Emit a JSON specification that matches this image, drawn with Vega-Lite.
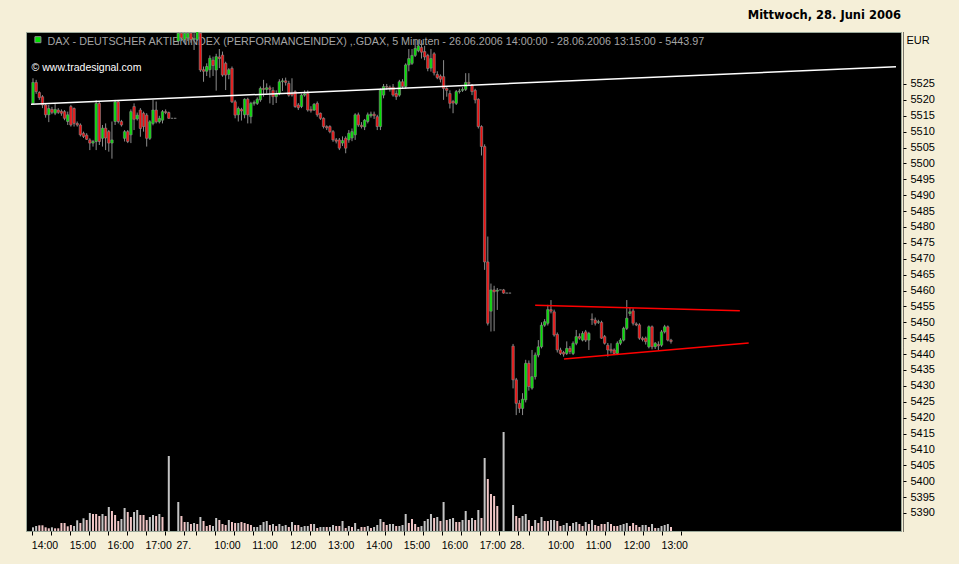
{
"$schema": "https://vega.github.io/schema/vega-lite/v6.json",
"width": 875, "height": 499,
"autosize": {"type": "none"},
"padding": {"left": 26, "top": 32, "right": 58, "bottom": 33},
"background": "#F5EFD8",
"config": {"view": {"fill": "#000000", "stroke": "#9AA89A", "strokeWidth": 1}, "font": "Liberation Sans",
 "axisY": {"titleAngle": 0, "titleAlign": "left", "titleBaseline": "alphabetic", "titleX": 3, "titleY": 11, "titleFontWeight": "normal", "titleFontSize": 11, "titleColor": "#000000", "titleFont": "Liberation Sans",
   "labelFontSize": 11, "labelColor": "#000000", "labelFont": "Liberation Sans", "labelPadding": 4, "tickSize": 3, "tickColor": "#000000",
   "domain": true, "domainDash": [1, 1], "domainColor": "#000000", "offset": 2, "grid": false, "labelOverlap": false, "labelFlush": false}},
"title": {"text": "Mittwoch, 28. Juni 2006", "anchor": "end", "frame": "group", "fontSize": 11.5, "fontWeight": "bold", "font": "DejaVu Sans", "color": "#000000", "offset": 11},
"datasets": {
"candles": [
{"n":0,"o":5518.9,"h":5526.8,"l":5518.6,"c":5525.5},
{"n":1,"o":5525.5,"h":5526.3,"l":5521.9,"c":5522.6},
{"n":2,"o":5522.3,"h":5522.7,"l":5520.0,"c":5520.7},
{"n":3,"o":5521.0,"h":5521.5,"l":5517.4,"c":5518.4},
{"n":4,"o":5518.4,"h":5518.7,"l":5514.4,"c":5515.3},
{"n":5,"o":5515.3,"h":5518.4,"l":5513.0,"c":5517.3},
{"n":6,"o":5517.0,"h":5517.8,"l":5515.5,"c":5516.1},
{"n":7,"o":5515.8,"h":5518.9,"l":5515.2,"c":5517.0},
{"n":8,"o":5516.8,"h":5517.4,"l":5515.6,"c":5516.1},
{"n":9,"o":5516.4,"h":5517.0,"l":5515.0,"c":5515.8},
{"n":10,"o":5516.3,"h":5516.8,"l":5513.6,"c":5514.2},
{"n":11,"o":5513.2,"h":5516.3,"l":5512.1,"c":5515.3},
{"n":12,"o":5517.9,"h":5518.4,"l":5511.6,"c":5512.1},
{"n":13,"o":5517.3,"h":5517.6,"l":5511.6,"c":5512.6},
{"n":14,"o":5512.6,"h":5513.2,"l":5511.6,"c":5512.1},
{"n":15,"o":5512.1,"h":5512.6,"l":5508.5,"c":5509.0},
{"n":16,"o":5509.5,"h":5510.0,"l":5508.0,"c":5508.5},
{"n":17,"o":5508.9,"h":5509.5,"l":5507.4,"c":5507.6},
{"n":18,"o":5507.4,"h":5507.9,"l":5504.2,"c":5506.4},
{"n":19,"o":5506.4,"h":5507.4,"l":5505.3,"c":5506.9},
{"n":20,"o":5506.9,"h":5519.9,"l":5504.2,"c":5518.9},
{"n":21,"o":5518.9,"h":5519.4,"l":5505.8,"c":5506.9},
{"n":22,"o":5507.9,"h":5512.1,"l":5505.3,"c":5511.1},
{"n":23,"o":5511.1,"h":5512.6,"l":5504.2,"c":5508.0},
{"n":24,"o":5510.0,"h":5510.5,"l":5503.7,"c":5506.4},
{"n":25,"o":5506.4,"h":5513.2,"l":5501.5,"c":5507.4},
{"n":26,"o":5513.2,"h":5520.0,"l":5512.1,"c":5519.4},
{"n":27,"o":5519.4,"h":5519.9,"l":5512.6,"c":5513.2},
{"n":28,"o":5513.2,"h":5513.7,"l":5511.6,"c":5512.1},
{"n":29,"o":5507.9,"h":5510.5,"l":5506.9,"c":5510.0},
{"n":30,"o":5510.0,"h":5510.5,"l":5506.4,"c":5506.9},
{"n":31,"o":5509.0,"h":5517.0,"l":5506.4,"c":5516.3},
{"n":32,"o":5517.9,"h":5518.9,"l":5510.5,"c":5513.9},
{"n":33,"o":5514.0,"h":5516.0,"l":5513.5,"c":5515.2},
{"n":34,"o":5516.8,"h":5517.4,"l":5508.4,"c":5511.0},
{"n":35,"o":5515.8,"h":5516.3,"l":5510.0,"c":5511.6},
{"n":36,"o":5515.2,"h":5515.8,"l":5505.3,"c":5507.9},
{"n":37,"o":5507.9,"h":5513.6,"l":5507.4,"c":5513.1},
{"n":38,"o":5512.6,"h":5520.0,"l":5512.0,"c":5516.8},
{"n":39,"o":5516.8,"h":5519.5,"l":5512.6,"c":5513.1},
{"n":40,"o":5513.1,"h":5515.0,"l":5512.6,"c":5514.2},
{"n":41,"o":5513.6,"h":5516.8,"l":5512.6,"c":5516.3},
{"n":42,"o":5516.3,"h":5517.0,"l":5515.5,"c":5516.0},
{"n":43,"o":5516.0,"h":5516.3,"l":5514.0,"c":5514.2},
{"n":44,"o":5514.2,"h":5514.2,"l":5514.2,"c":5514.2},
{"n":45,"o":5514.2,"h":5514.2,"l":5514.2,"c":5514.2},
{"n":46,"o":5538.5,"h":5542.0,"l":5537.5,"c":5541.0},
{"n":47,"o":5541.0,"h":5542.0,"l":5538.5,"c":5539.5},
{"n":48,"o":5539.0,"h":5542.0,"l":5538.0,"c":5541.0},
{"n":49,"o":5539.5,"h":5542.0,"l":5538.5,"c":5541.0},
{"n":50,"o":5541.0,"h":5542.0,"l":5538.0,"c":5539.0},
{"n":51,"o":5539.0,"h":5541.0,"l":5535.7,"c":5539.3},
{"n":52,"o":5539.0,"h":5542.0,"l":5538.5,"c":5541.5},
{"n":53,"o":5541.0,"h":5542.0,"l":5528.8,"c":5529.4},
{"n":54,"o":5529.5,"h":5530.5,"l":5525.7,"c":5529.0},
{"n":55,"o":5529.0,"h":5531.5,"l":5527.5,"c":5530.5},
{"n":56,"o":5529.5,"h":5534.0,"l":5527.0,"c":5533.1},
{"n":57,"o":5532.5,"h":5533.6,"l":5527.5,"c":5530.8},
{"n":58,"o":5529.4,"h":5534.5,"l":5522.9,"c":5533.6},
{"n":59,"o":5533.5,"h":5536.0,"l":5530.0,"c":5533.0},
{"n":60,"o":5534.1,"h":5535.2,"l":5527.3,"c":5527.8},
{"n":61,"o":5531.5,"h":5532.0,"l":5523.1,"c":5527.8},
{"n":62,"o":5528.0,"h":5530.0,"l":5526.5,"c":5529.5},
{"n":63,"o":5529.9,"h":5530.5,"l":5519.0,"c":5519.4},
{"n":64,"o":5519.4,"h":5520.0,"l":5514.2,"c":5515.2},
{"n":65,"o":5515.3,"h":5517.9,"l":5513.2,"c":5517.3},
{"n":66,"o":5517.0,"h":5517.5,"l":5513.5,"c":5516.5},
{"n":67,"o":5515.3,"h":5520.5,"l":5514.2,"c":5520.2},
{"n":68,"o":5520.2,"h":5520.7,"l":5512.6,"c":5515.3},
{"n":69,"o":5514.7,"h":5519.4,"l":5512.6,"c":5518.9},
{"n":70,"o":5518.9,"h":5519.8,"l":5518.2,"c":5519.2},
{"n":71,"o":5518.9,"h":5520.8,"l":5518.4,"c":5520.2},
{"n":72,"o":5520.0,"h":5524.2,"l":5519.4,"c":5523.6},
{"n":73,"o":5523.6,"h":5526.3,"l":5521.0,"c":5523.3},
{"n":74,"o":5523.3,"h":5525.2,"l":5522.0,"c":5523.8},
{"n":75,"o":5523.8,"h":5524.5,"l":5518.9,"c":5523.3},
{"n":76,"o":5523.0,"h":5524.0,"l":5518.4,"c":5521.0},
{"n":77,"o":5521.0,"h":5523.0,"l":5519.0,"c":5522.0},
{"n":78,"o":5522.0,"h":5526.5,"l":5521.5,"c":5525.7},
{"n":79,"o":5525.7,"h":5526.8,"l":5522.8,"c":5526.0},
{"n":80,"o":5526.0,"h":5527.0,"l":5524.5,"c":5525.5},
{"n":81,"o":5525.2,"h":5526.0,"l":5521.0,"c":5521.5},
{"n":82,"o":5522.0,"h":5526.8,"l":5521.0,"c":5521.5},
{"n":83,"o":5522.6,"h":5523.0,"l":5517.5,"c":5517.9},
{"n":84,"o":5518.4,"h":5519.0,"l":5516.8,"c":5517.5},
{"n":85,"o":5517.9,"h":5522.0,"l":5517.4,"c":5521.5},
{"n":86,"o":5521.5,"h":5523.0,"l":5521.0,"c":5521.9},
{"n":87,"o":5522.1,"h":5523.0,"l":5516.3,"c":5516.8},
{"n":88,"o":5517.0,"h":5518.0,"l":5516.0,"c":5516.6},
{"n":89,"o":5516.8,"h":5519.0,"l":5516.5,"c":5518.6},
{"n":90,"o":5518.9,"h":5519.5,"l":5514.7,"c":5515.3},
{"n":91,"o":5515.8,"h":5516.0,"l":5513.7,"c":5514.2},
{"n":92,"o":5514.2,"h":5514.5,"l":5511.0,"c":5511.6},
{"n":93,"o":5511.6,"h":5512.0,"l":5510.5,"c":5511.2},
{"n":94,"o":5511.6,"h":5512.0,"l":5509.5,"c":5510.0},
{"n":95,"o":5510.0,"h":5510.5,"l":5506.8,"c":5507.4},
{"n":96,"o":5507.4,"h":5508.0,"l":5506.3,"c":5507.0},
{"n":97,"o":5507.4,"h":5508.0,"l":5504.2,"c":5504.8},
{"n":98,"o":5506.4,"h":5508.5,"l":5505.5,"c":5507.2},
{"n":99,"o":5507.9,"h":5508.5,"l":5503.2,"c":5504.8},
{"n":100,"o":5507.4,"h":5510.5,"l":5506.5,"c":5509.5},
{"n":101,"o":5508.0,"h":5511.0,"l":5507.0,"c":5510.0},
{"n":102,"o":5509.0,"h":5515.8,"l":5507.4,"c":5515.3},
{"n":103,"o":5515.3,"h":5516.0,"l":5511.5,"c":5512.1},
{"n":104,"o":5512.0,"h":5513.0,"l":5511.0,"c":5511.6},
{"n":105,"o":5511.5,"h":5514.0,"l":5510.5,"c":5513.6},
{"n":106,"o":5513.2,"h":5516.0,"l":5512.6,"c":5515.3},
{"n":107,"o":5515.0,"h":5516.3,"l":5514.4,"c":5515.5},
{"n":108,"o":5515.5,"h":5516.3,"l":5514.0,"c":5515.0},
{"n":109,"o":5514.7,"h":5515.3,"l":5510.5,"c":5511.6},
{"n":110,"o":5511.6,"h":5523.6,"l":5510.5,"c":5523.1},
{"n":111,"o":5521.5,"h":5525.0,"l":5520.5,"c":5524.2},
{"n":112,"o":5524.2,"h":5525.0,"l":5523.2,"c":5524.0},
{"n":113,"o":5524.0,"h":5524.5,"l":5522.6,"c":5523.6},
{"n":114,"o":5524.0,"h":5525.0,"l":5521.0,"c":5521.5},
{"n":115,"o":5522.0,"h":5523.0,"l":5520.0,"c":5521.0},
{"n":116,"o":5521.5,"h":5526.3,"l":5521.0,"c":5525.7},
{"n":117,"o":5525.7,"h":5526.5,"l":5523.5,"c":5524.2},
{"n":118,"o":5524.2,"h":5531.5,"l":5523.5,"c":5531.0},
{"n":119,"o":5531.0,"h":5536.0,"l":5529.0,"c":5533.0},
{"n":120,"o":5531.5,"h":5536.0,"l":5531.0,"c":5534.0},
{"n":121,"o":5534.0,"h":5538.8,"l":5533.5,"c":5536.2},
{"n":122,"o":5535.5,"h":5539.0,"l":5535.0,"c":5537.0},
{"n":123,"o":5536.5,"h":5538.8,"l":5533.0,"c":5535.0},
{"n":124,"o":5535.2,"h":5537.0,"l":5532.5,"c":5533.5},
{"n":125,"o":5534.0,"h":5534.5,"l":5529.0,"c":5529.9},
{"n":126,"o":5530.0,"h":5536.0,"l":5528.9,"c":5533.0},
{"n":127,"o":5534.5,"h":5535.0,"l":5527.7,"c":5528.5},
{"n":128,"o":5528.0,"h":5529.0,"l":5526.5,"c":5527.0},
{"n":129,"o":5527.5,"h":5528.0,"l":5525.5,"c":5526.5},
{"n":130,"o":5527.3,"h":5532.5,"l":5520.0,"c":5523.6},
{"n":131,"o":5523.6,"h":5524.0,"l":5521.0,"c":5523.0},
{"n":132,"o":5522.0,"h":5523.0,"l":5517.3,"c":5518.9},
{"n":133,"o":5519.5,"h":5520.0,"l":5515.8,"c":5519.0},
{"n":134,"o":5518.9,"h":5523.1,"l":5518.4,"c":5522.6},
{"n":135,"o":5522.6,"h":5523.5,"l":5522.0,"c":5522.8},
{"n":136,"o":5523.0,"h":5524.0,"l":5522.5,"c":5523.3},
{"n":137,"o":5523.3,"h":5528.4,"l":5522.8,"c":5525.5},
{"n":138,"o":5525.5,"h":5528.4,"l":5524.5,"c":5525.2},
{"n":139,"o":5524.7,"h":5525.0,"l":5521.5,"c":5522.6},
{"n":140,"o":5523.0,"h":5523.5,"l":5518.9,"c":5520.0},
{"n":141,"o":5520.2,"h":5520.5,"l":5511.0,"c":5511.6},
{"n":142,"o":5511.6,"h":5512.0,"l":5502.5,"c":5505.3},
{"n":143,"o":5505.3,"h":5506.0,"l":5466.5,"c":5469.0},
{"n":144,"o":5469.0,"h":5477.0,"l":5449.0,"c":5449.7},
{"n":145,"o":5453.5,"h":5462.2,"l":5447.1,"c":5460.2},
{"n":146,"o":5460.2,"h":5461.5,"l":5447.2,"c":5459.6},
{"n":147,"o":5459.8,"h":5460.8,"l":5453.9,"c":5460.1},
{"n":148,"o":5460.2,"h":5460.2,"l":5460.2,"c":5460.2},
{"n":149,"o":5460.2,"h":5460.5,"l":5459.0,"c":5459.2},
{"n":150,"o":5459.2,"h":5459.2,"l":5459.2,"c":5459.2},
{"n":151,"o":5459.2,"h":5459.2,"l":5459.2,"c":5459.2},
{"n":152,"o":5442.5,"h":5443.2,"l":5429.2,"c":5431.9},
{"n":153,"o":5431.9,"h":5432.5,"l":5420.8,"c":5424.5},
{"n":154,"o":5424.5,"h":5425.5,"l":5421.5,"c":5422.9},
{"n":155,"o":5422.9,"h":5427.7,"l":5420.8,"c":5425.8},
{"n":156,"o":5425.6,"h":5438.2,"l":5424.8,"c":5437.1},
{"n":157,"o":5437.1,"h":5438.0,"l":5428.5,"c":5429.8},
{"n":158,"o":5429.3,"h":5441.3,"l":5428.8,"c":5432.9},
{"n":159,"o":5432.9,"h":5440.5,"l":5432.0,"c":5439.7},
{"n":160,"o":5439.7,"h":5444.4,"l":5439.0,"c":5442.3},
{"n":161,"o":5442.3,"h":5450.0,"l":5441.8,"c":5449.1},
{"n":162,"o":5449.1,"h":5451.0,"l":5448.6,"c":5450.2},
{"n":163,"o":5449.7,"h":5455.5,"l":5449.0,"c":5454.0},
{"n":164,"o":5454.0,"h":5457.0,"l":5452.8,"c":5453.5},
{"n":165,"o":5453.3,"h":5454.0,"l":5445.5,"c":5446.0},
{"n":166,"o":5446.2,"h":5446.8,"l":5440.5,"c":5441.3},
{"n":167,"o":5441.3,"h":5442.0,"l":5439.7,"c":5440.2},
{"n":168,"o":5440.5,"h":5441.0,"l":5439.2,"c":5440.0},
{"n":169,"o":5440.2,"h":5444.0,"l":5439.7,"c":5441.8},
{"n":170,"o":5441.8,"h":5442.5,"l":5440.0,"c":5440.8},
{"n":171,"o":5440.2,"h":5444.0,"l":5439.7,"c":5443.4},
{"n":172,"o":5443.4,"h":5447.6,"l":5442.8,"c":5445.5},
{"n":173,"o":5445.5,"h":5446.5,"l":5444.5,"c":5445.0},
{"n":174,"o":5444.4,"h":5447.2,"l":5444.0,"c":5446.5},
{"n":175,"o":5447.0,"h":5447.6,"l":5443.8,"c":5444.4},
{"n":176,"o":5444.4,"h":5447.0,"l":5441.3,"c":5446.5},
{"n":177,"o":5451.0,"h":5452.8,"l":5449.2,"c":5450.8},
{"n":178,"o":5450.7,"h":5451.5,"l":5449.0,"c":5449.7},
{"n":179,"o":5450.0,"h":5450.8,"l":5449.5,"c":5450.2},
{"n":180,"o":5450.0,"h":5450.5,"l":5444.8,"c":5445.0},
{"n":181,"o":5445.5,"h":5446.0,"l":5443.0,"c":5443.4},
{"n":182,"o":5442.8,"h":5443.5,"l":5439.2,"c":5441.3},
{"n":183,"o":5441.5,"h":5443.4,"l":5440.2,"c":5441.0},
{"n":184,"o":5441.3,"h":5441.8,"l":5439.7,"c":5440.2},
{"n":185,"o":5440.2,"h":5444.0,"l":5439.7,"c":5443.4},
{"n":186,"o":5443.4,"h":5445.0,"l":5442.8,"c":5444.4},
{"n":187,"o":5444.4,"h":5448.6,"l":5444.0,"c":5448.1},
{"n":188,"o":5448.1,"h":5457.0,"l":5447.6,"c":5451.3},
{"n":189,"o":5452.8,"h":5454.5,"l":5452.0,"c":5453.3},
{"n":190,"o":5453.6,"h":5454.4,"l":5449.0,"c":5449.7},
{"n":191,"o":5449.5,"h":5450.0,"l":5448.8,"c":5449.2},
{"n":192,"o":5449.2,"h":5449.7,"l":5444.5,"c":5445.0},
{"n":193,"o":5445.0,"h":5445.5,"l":5444.0,"c":5444.6},
{"n":194,"o":5445.0,"h":5445.5,"l":5443.0,"c":5443.9},
{"n":195,"o":5442.3,"h":5449.0,"l":5441.8,"c":5448.6},
{"n":196,"o":5448.6,"h":5449.0,"l":5441.5,"c":5442.3},
{"n":197,"o":5442.3,"h":5443.8,"l":5441.6,"c":5443.4},
{"n":198,"o":5443.0,"h":5444.0,"l":5441.3,"c":5442.6},
{"n":199,"o":5442.8,"h":5447.6,"l":5442.3,"c":5447.0},
{"n":200,"o":5447.0,"h":5449.2,"l":5446.5,"c":5448.6},
{"n":201,"o":5448.6,"h":5449.0,"l":5444.0,"c":5444.4},
{"n":202,"o":5444.4,"h":5444.8,"l":5443.3,"c":5443.97}
],
"vol": [
{"n":0,"v":3.7,"d":"u"},{"n":1,"v":5,"d":"u"},{"n":2,"v":5.7,"d":"d"},{"n":3,"v":5.7,"d":"d"},{"n":4,"v":3.7,"d":"d"},{"n":5,"v":2.7,"d":"d"},{"n":6,"v":3.7,"d":"u"},{"n":7,"v":2.7,"d":"d"},{"n":8,"v":2.7,"d":"d"},{"n":9,"v":8,"d":"d"},{"n":10,"v":8,"d":"d"},{"n":11,"v":4.7,"d":"d"},{"n":12,"v":6,"d":"d"},{"n":13,"v":5,"d":"u"},{"n":14,"v":10.7,"d":"u"},{"n":15,"v":8,"d":"d"},{"n":16,"v":12.7,"d":"u"},{"n":17,"v":11,"d":"d"},{"n":18,"v":18,"d":"u"},{"n":19,"v":17,"d":"d"},{"n":20,"v":17,"d":"d"},{"n":21,"v":15,"d":"d"},{"n":22,"v":17,"d":"u"},{"n":23,"v":15,"d":"d"},{"n":24,"v":24,"d":"u"},{"n":25,"v":20,"d":"d"},{"n":26,"v":16,"d":"d"},{"n":27,"v":10,"d":"d"},{"n":28,"v":12,"d":"u"},{"n":29,"v":23,"d":"u"},{"n":30,"v":19,"d":"d"},{"n":31,"v":14,"d":"d"},{"n":32,"v":19,"d":"u"},{"n":33,"v":21,"d":"u"},{"n":34,"v":16,"d":"d"},{"n":35,"v":16,"d":"d"},{"n":36,"v":11,"d":"d"},{"n":37,"v":14,"d":"u"},{"n":38,"v":16,"d":"u"},{"n":39,"v":15,"d":"d"},{"n":40,"v":17,"d":"u"},{"n":41,"v":14,"d":"d"},{"n":43,"v":75,"d":"u"},
{"n":46,"v":29,"d":"u"},{"n":47,"v":15,"d":"d"},{"n":48,"v":9,"d":"d"},{"n":49,"v":9,"d":"u"},{"n":50,"v":7,"d":"d"},{"n":51,"v":8,"d":"u"},{"n":52,"v":7,"d":"d"},{"n":53,"v":14,"d":"u"},{"n":54,"v":10,"d":"d"},{"n":55,"v":5,"d":"d"},{"n":56,"v":6,"d":"d"},{"n":57,"v":5,"d":"u"},{"n":58,"v":13,"d":"u"},{"n":59,"v":11,"d":"d"},{"n":60,"v":7,"d":"d"},{"n":61,"v":6,"d":"d"},{"n":62,"v":11,"d":"u"},{"n":63,"v":9,"d":"d"},{"n":64,"v":8,"d":"d"},{"n":65,"v":8,"d":"u"},{"n":66,"v":9,"d":"d"},{"n":67,"v":8,"d":"d"},{"n":68,"v":7,"d":"d"},{"n":69,"v":6,"d":"d"},{"n":70,"v":4,"d":"u"},{"n":71,"v":4,"d":"u"},{"n":72,"v":6,"d":"u"},{"n":73,"v":9,"d":"u"},{"n":74,"v":10,"d":"u"},{"n":75,"v":6,"d":"d"},{"n":76,"v":7,"d":"u"},{"n":77,"v":5,"d":"d"},{"n":78,"v":7,"d":"u"},{"n":79,"v":5,"d":"u"},{"n":80,"v":6,"d":"u"},{"n":81,"v":4,"d":"d"},{"n":82,"v":9,"d":"u"},{"n":83,"v":6,"d":"d"},{"n":84,"v":6,"d":"d"},{"n":85,"v":4,"d":"u"},{"n":86,"v":5,"d":"u"},{"n":87,"v":5,"d":"u"},{"n":88,"v":7,"d":"d"},{"n":89,"v":7,"d":"u"},{"n":90,"v":3,"d":"d"},{"n":91,"v":4,"d":"u"},{"n":92,"v":4,"d":"u"},{"n":93,"v":4,"d":"d"},{"n":94,"v":4,"d":"u"},{"n":95,"v":6,"d":"u"},{"n":96,"v":5,"d":"d"},{"n":97,"v":5,"d":"d"},{"n":98,"v":10,"d":"u"},{"n":99,"v":3,"d":"d"},{"n":100,"v":5,"d":"u"},{"n":101,"v":4,"d":"d"},{"n":102,"v":8,"d":"u"},
{"n":103,"v":2,"d":"u"},{"n":104,"v":4,"d":"d"},{"n":105,"v":4,"d":"d"},{"n":106,"v":5,"d":"u"},{"n":107,"v":3,"d":"d"},{"n":108,"v":4,"d":"u"},{"n":109,"v":6,"d":"u"},{"n":110,"v":12,"d":"u"},{"n":111,"v":9,"d":"d"},{"n":112,"v":6,"d":"d"},{"n":113,"v":7,"d":"u"},{"n":114,"v":7,"d":"u"},{"n":115,"v":5,"d":"d"},{"n":116,"v":5,"d":"u"},{"n":117,"v":6,"d":"u"},{"n":118,"v":17,"d":"u"},{"n":119,"v":8,"d":"d"},{"n":120,"v":12,"d":"d"},{"n":121,"v":7,"d":"d"},{"n":122,"v":4,"d":"d"},{"n":123,"v":5,"d":"u"},{"n":124,"v":10,"d":"u"},{"n":125,"v":12,"d":"u"},{"n":126,"v":17,"d":"u"},{"n":127,"v":13,"d":"d"},{"n":128,"v":14,"d":"u"},{"n":129,"v":10,"d":"d"},{"n":130,"v":29,"d":"u"},{"n":131,"v":11,"d":"d"},{"n":132,"v":12,"d":"u"},{"n":133,"v":13,"d":"u"},{"n":134,"v":9,"d":"d"},{"n":135,"v":9,"d":"d"},{"n":136,"v":11,"d":"u"},{"n":137,"v":20,"d":"u"},{"n":138,"v":11,"d":"d"},{"n":139,"v":13,"d":"u"},{"n":140,"v":11,"d":"d"},{"n":141,"v":21,"d":"u"},{"n":142,"v":13,"d":"d"},{"n":143,"v":73,"d":"u"},{"n":144,"v":52,"d":"d"},{"n":145,"v":37,"d":"d"},{"n":146,"v":35,"d":"d"},{"n":147,"v":25,"d":"d"},{"n":149,"v":99,"d":"u"},
{"n":152,"v":26,"d":"u"},{"n":153,"v":15,"d":"d"},{"n":154,"v":13,"d":"d"},{"n":155,"v":15,"d":"u"},{"n":156,"v":17,"d":"u"},{"n":157,"v":11,"d":"d"},{"n":158,"v":5,"d":"d"},{"n":159,"v":11,"d":"u"},{"n":160,"v":8,"d":"d"},{"n":161,"v":14,"d":"u"},{"n":162,"v":10,"d":"d"},{"n":163,"v":10,"d":"d"},{"n":164,"v":11,"d":"u"},{"n":165,"v":11,"d":"u"},{"n":166,"v":10,"d":"d"},{"n":167,"v":5,"d":"d"},{"n":168,"v":6,"d":"u"},{"n":169,"v":8,"d":"u"},{"n":170,"v":5,"d":"d"},{"n":171,"v":8,"d":"u"},{"n":172,"v":9,"d":"u"},{"n":173,"v":7,"d":"d"},{"n":174,"v":5,"d":"d"},{"n":175,"v":9,"d":"u"},{"n":176,"v":7,"d":"d"},{"n":177,"v":11,"d":"u"},{"n":178,"v":6,"d":"d"},{"n":179,"v":5,"d":"d"},{"n":180,"v":7,"d":"d"},{"n":181,"v":7,"d":"d"},{"n":182,"v":9,"d":"u"},{"n":183,"v":7,"d":"d"},{"n":184,"v":5,"d":"d"},{"n":185,"v":5,"d":"d"},{"n":186,"v":6,"d":"u"},{"n":187,"v":7,"d":"u"},{"n":188,"v":8,"d":"u"},{"n":189,"v":5,"d":"d"},{"n":190,"v":8,"d":"d"},{"n":191,"v":6,"d":"d"},{"n":192,"v":4,"d":"d"},{"n":193,"v":6,"d":"u"},{"n":194,"v":6,"d":"u"},{"n":195,"v":4,"d":"d"},{"n":196,"v":7,"d":"u"},{"n":197,"v":3,"d":"d"},{"n":198,"v":3,"d":"u"},{"n":199,"v":5,"d":"u"},{"n":200,"v":6,"d":"u"},{"n":201,"v":7,"d":"u"},{"n":202,"v":4,"d":"d"}
],
"lines": [
{"g":"w","n":-0.63,"p":5518.59},{"g":"w","n":273.24,"p":5530.43},
{"g":"r1","n":159.0,"p":5455.36},{"g":"r1","n":223.8,"p":5453.63},
{"g":"r2","n":168.1,"p":5438.46},{"g":"r2","n":226.6,"p":5443.49}
],
"lab1": [{"n":4.6,"p":5537.27,"t":"DAX  - DEUTSCHER AKTIENINDEX (PERFORMANCEINDEX) ,.GDAX, 5 Minuten - 26.06.2006 14:00:00 - 28.06.2006 13:15:00 - 5443.97"}],
"lab2": [{"n":-0.45,"p":5528.93,"t":"© www.tradesignal.com"}],
"sq": [{"n":1.56,"p":5538.94}]
},
"encoding": {
"x": {"field": "n", "type": "quantitative",
 "scale": {"domain": [-0.63, 273.24], "nice": false, "zero": false},
 "axis": {"title": null, "grid": false, "domain": false,
  "values": [-0.2,5.8,11.8,17.8,23.8,29.8,35.8,41.8,47.8,51.6,57.6,63.6,69.6,75.6,81.6,87.6,93.6,99.6,105.6,111.6,117.6,123.6,129.6,135.6,141.6,147.6,153.6,157.2,163.2,169.2,175.2,181.2,187.2,193.2,199.2,205.2],
  "labelExpr": "indexof([5.8,17.8,29.8,41.8,51.6,63.6,75.6,87.6,99.6,111.6,123.6,135.6,147.6,157.2,169.2,181.2,193.2,205.2], datum.value) >= 0 ? ['14:00','15:00','16:00','17:00','27.','10:00','11:00','12:00','13:00','14:00','15:00','16:00','17:00','28.','10:00','11:00','12:00','13:00'][indexof([5.8,17.8,29.8,41.8,51.6,63.6,75.6,87.6,99.6,111.6,123.6,135.6,147.6,157.2,169.2,181.2,193.2,205.2], datum.value)] : ''",
  "labelAlign": "left", "labelOffset": -20, "labelFontSize": 10.5, "labelColor": "#000000", "labelFont": "Liberation Sans",
  "tickSize": 4, "tickColor": "#000000", "labelPadding": 5, "labelOverlap": false, "labelFlush": false, "labelBound": false}}
},
"layer": [
{"data": {"name": "vol"},
 "mark": {"type": "bar", "size": 2, "clip": true},
 "encoding": {
  "y": {"field": "v", "type": "quantitative", "scale": {"domain": [0, 499], "nice": false, "zero": true}, "axis": null},
  "fill": {"condition": {"test": "datum.d == 'u'", "value": "#C4C4C4"}, "value": "#F2C6C6"}}},
{"layer": [
 {"data": {"name": "lab1"},
  "mark": {"type": "text", "align": "left", "baseline": "alphabetic", "fontSize": 10.75, "color": "#A4A4A4", "font": "Liberation Sans"},
  "encoding": {"y": {"field": "p", "type": "quantitative", "scale": {"domain": [5384.33, 5541.36], "nice": false, "zero": false},
   "axis": {"orient": "right", "title": "EUR", "format": "d", "values": [5390,5395,5400,5405,5410,5415,5420,5425,5430,5435,5440,5445,5450,5455,5460,5465,5470,5475,5480,5485,5490,5495,5500,5505,5510,5515,5520,5525]}}, "text": {"field": "t"}}},
 {"data": {"name": "lab2"},
  "mark": {"type": "text", "align": "left", "baseline": "alphabetic", "fontSize": 10.5, "color": "#FFFFFF", "font": "Liberation Sans"},
  "encoding": {"y": {"field": "p", "type": "quantitative",
   "axis": {"orient": "right", "title": "EUR", "format": "d", "values": [5390,5395,5400,5405,5410,5415,5420,5425,5430,5435,5440,5445,5450,5455,5460,5465,5470,5475,5480,5485,5490,5495,5500,5505,5510,5515,5520,5525]}}, "text": {"field": "t"}}},
 {"data": {"name": "sq"},
  "mark": {"type": "point", "shape": "square", "size": 36, "filled": true, "fill": "#00E000", "stroke": "#909090", "strokeWidth": 1, "opacity": 1},
  "encoding": {"y": {"field": "p", "type": "quantitative",
   "axis": {"orient": "right", "title": "EUR", "format": "d", "values": [5390,5395,5400,5405,5410,5415,5420,5425,5430,5435,5440,5445,5450,5455,5460,5465,5470,5475,5480,5485,5490,5495,5500,5505,5510,5515,5520,5525]}}}},
 {"data": {"name": "candles"},
  "mark": {"type": "rule", "color": "#8C8C8C", "strokeWidth": 1, "clip": true},
  "encoding": {
   "y": {"field": "l", "type": "quantitative",
    "axis": {"orient": "right", "title": "EUR", "format": "d", "values": [5390,5395,5400,5405,5410,5415,5420,5425,5430,5435,5440,5445,5450,5455,5460,5465,5470,5475,5480,5485,5490,5495,5500,5505,5510,5515,5520,5525]}},
   "y2": {"field": "h"}}},
 {"data": {"name": "candles"},
  "mark": {"type": "bar", "size": 2.4, "stroke": "#8C8C8C", "strokeWidth": 0.6, "clip": true},
  "encoding": {
   "y": {"field": "o", "type": "quantitative",
    "axis": {"orient": "right", "title": "EUR", "format": "d", "values": [5390,5395,5400,5405,5410,5415,5420,5425,5430,5435,5440,5445,5450,5455,5460,5465,5470,5475,5480,5485,5490,5495,5500,5505,5510,5515,5520,5525]}},
   "y2": {"field": "c"},
   "fill": {"condition": {"test": "datum.c > datum.o", "value": "#00E000"}, "value": "#F01010"}}},
 {"data": {"name": "lines"},
  "mark": {"type": "line", "strokeWidth": 1.5, "clip": true},
  "encoding": {
   "y": {"field": "p", "type": "quantitative",
    "axis": {"orient": "right", "title": "EUR", "format": "d", "values": [5390,5395,5400,5405,5410,5415,5420,5425,5430,5435,5440,5445,5450,5455,5460,5465,5470,5475,5480,5485,5490,5495,5500,5505,5510,5515,5520,5525]}},
   "detail": {"field": "g"},
   "color": {"field": "g", "type": "nominal", "scale": {"domain": ["w", "r1", "r2"], "range": ["#FFFFFF", "#FF0000", "#FF0000"]}, "legend": null}}}
 ]}
],
"resolve": {"scale": {"y": "independent"}}
}
